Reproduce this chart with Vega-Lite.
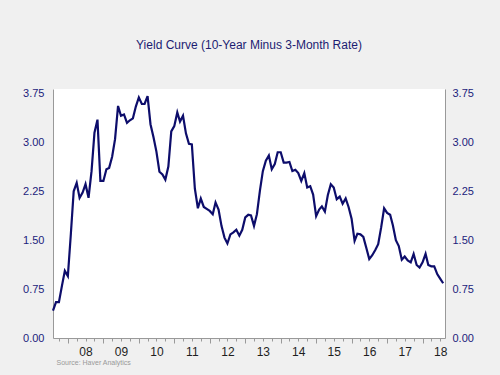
{
  "$schema": "https://vega.github.io/schema/vega-lite/v6.json",
  "autosize": {"type": "none"},
  "width": 392,
  "height": 249,
  "padding": {"left": 53, "top": 89, "right": 55, "bottom": 37},
  "background": "#f0f0f0",
  "view": {"fill": "white", "stroke": null},
  "title": {
    "text": "Yield Curve (10-Year Minus 3-Month Rate)",
    "color": "#1c1c72",
    "fontSize": 12,
    "font": "Liberation Sans",
    "fontWeight": "normal",
    "anchor": "middle",
    "offset": 36
  },
  "data": {
    "values": [
      {"date": "2007-08-01", "spread": 0.42},
      {"date": "2007-09-01", "spread": 0.55},
      {"date": "2007-10-01", "spread": 0.55},
      {"date": "2007-11-01", "spread": 0.80},
      {"date": "2007-12-01", "spread": 1.03},
      {"date": "2008-01-01", "spread": 0.95},
      {"date": "2008-02-01", "spread": 1.60},
      {"date": "2008-03-01", "spread": 2.25},
      {"date": "2008-04-01", "spread": 2.38},
      {"date": "2008-05-01", "spread": 2.15},
      {"date": "2008-06-01", "spread": 2.23},
      {"date": "2008-07-01", "spread": 2.36},
      {"date": "2008-08-01", "spread": 2.15},
      {"date": "2008-09-01", "spread": 2.56},
      {"date": "2008-10-01", "spread": 3.15},
      {"date": "2008-11-01", "spread": 3.35},
      {"date": "2008-12-01", "spread": 2.41},
      {"date": "2009-01-01", "spread": 2.41},
      {"date": "2009-02-01", "spread": 2.59},
      {"date": "2009-03-01", "spread": 2.61},
      {"date": "2009-04-01", "spread": 2.78},
      {"date": "2009-05-01", "spread": 3.05},
      {"date": "2009-06-01", "spread": 3.56},
      {"date": "2009-07-01", "spread": 3.41},
      {"date": "2009-08-01", "spread": 3.43},
      {"date": "2009-09-01", "spread": 3.30},
      {"date": "2009-10-01", "spread": 3.34},
      {"date": "2009-11-01", "spread": 3.37},
      {"date": "2009-12-01", "spread": 3.55},
      {"date": "2010-01-01", "spread": 3.69},
      {"date": "2010-02-01", "spread": 3.59},
      {"date": "2010-03-01", "spread": 3.59},
      {"date": "2010-04-01", "spread": 3.71},
      {"date": "2010-05-01", "spread": 3.28},
      {"date": "2010-06-01", "spread": 3.08},
      {"date": "2010-07-01", "spread": 2.86},
      {"date": "2010-08-01", "spread": 2.55},
      {"date": "2010-09-01", "spread": 2.51},
      {"date": "2010-10-01", "spread": 2.43},
      {"date": "2010-11-01", "spread": 2.63},
      {"date": "2010-12-01", "spread": 3.17},
      {"date": "2011-01-01", "spread": 3.25},
      {"date": "2011-02-01", "spread": 3.46},
      {"date": "2011-03-01", "spread": 3.32},
      {"date": "2011-04-01", "spread": 3.41},
      {"date": "2011-05-01", "spread": 3.14},
      {"date": "2011-06-01", "spread": 2.98},
      {"date": "2011-07-01", "spread": 2.97},
      {"date": "2011-08-01", "spread": 2.29},
      {"date": "2011-09-01", "spread": 1.99},
      {"date": "2011-10-01", "spread": 2.14},
      {"date": "2011-11-01", "spread": 2.01},
      {"date": "2011-12-01", "spread": 1.98},
      {"date": "2012-01-01", "spread": 1.95},
      {"date": "2012-02-01", "spread": 1.90},
      {"date": "2012-03-01", "spread": 2.08},
      {"date": "2012-04-01", "spread": 1.97},
      {"date": "2012-05-01", "spread": 1.72},
      {"date": "2012-06-01", "spread": 1.54},
      {"date": "2012-07-01", "spread": 1.45},
      {"date": "2012-08-01", "spread": 1.59},
      {"date": "2012-09-01", "spread": 1.62},
      {"date": "2012-10-01", "spread": 1.66},
      {"date": "2012-11-01", "spread": 1.57},
      {"date": "2012-12-01", "spread": 1.66},
      {"date": "2013-01-01", "spread": 1.85},
      {"date": "2013-02-01", "spread": 1.89},
      {"date": "2013-03-01", "spread": 1.88},
      {"date": "2013-04-01", "spread": 1.72},
      {"date": "2013-05-01", "spread": 1.90},
      {"date": "2013-06-01", "spread": 2.26},
      {"date": "2013-07-01", "spread": 2.56},
      {"date": "2013-08-01", "spread": 2.72},
      {"date": "2013-09-01", "spread": 2.80},
      {"date": "2013-10-01", "spread": 2.59},
      {"date": "2013-11-01", "spread": 2.67},
      {"date": "2013-12-01", "spread": 2.85},
      {"date": "2014-01-01", "spread": 2.85},
      {"date": "2014-02-01", "spread": 2.69},
      {"date": "2014-03-01", "spread": 2.69},
      {"date": "2014-04-01", "spread": 2.70},
      {"date": "2014-05-01", "spread": 2.56},
      {"date": "2014-06-01", "spread": 2.58},
      {"date": "2014-07-01", "spread": 2.53},
      {"date": "2014-08-01", "spread": 2.41},
      {"date": "2014-09-01", "spread": 2.53},
      {"date": "2014-10-01", "spread": 2.31},
      {"date": "2014-11-01", "spread": 2.33},
      {"date": "2014-12-01", "spread": 2.20},
      {"date": "2015-01-01", "spread": 1.87},
      {"date": "2015-02-01", "spread": 1.97},
      {"date": "2015-03-01", "spread": 2.02},
      {"date": "2015-04-01", "spread": 1.94},
      {"date": "2015-05-01", "spread": 2.19},
      {"date": "2015-06-01", "spread": 2.36},
      {"date": "2015-07-01", "spread": 2.31},
      {"date": "2015-08-01", "spread": 2.13},
      {"date": "2015-09-01", "spread": 2.17},
      {"date": "2015-10-01", "spread": 2.06},
      {"date": "2015-11-01", "spread": 2.14},
      {"date": "2015-12-01", "spread": 2.01},
      {"date": "2016-01-01", "spread": 1.83},
      {"date": "2016-02-01", "spread": 1.49},
      {"date": "2016-03-01", "spread": 1.60},
      {"date": "2016-04-01", "spread": 1.59},
      {"date": "2016-05-01", "spread": 1.55},
      {"date": "2016-06-01", "spread": 1.38},
      {"date": "2016-07-01", "spread": 1.21},
      {"date": "2016-08-01", "spread": 1.27},
      {"date": "2016-09-01", "spread": 1.35},
      {"date": "2016-10-01", "spread": 1.44},
      {"date": "2016-11-01", "spread": 1.70},
      {"date": "2016-12-01", "spread": 1.99},
      {"date": "2017-01-01", "spread": 1.92},
      {"date": "2017-02-01", "spread": 1.89},
      {"date": "2017-03-01", "spread": 1.73},
      {"date": "2017-04-01", "spread": 1.50},
      {"date": "2017-05-01", "spread": 1.41},
      {"date": "2017-06-01", "spread": 1.20},
      {"date": "2017-07-01", "spread": 1.25},
      {"date": "2017-08-01", "spread": 1.19},
      {"date": "2017-09-01", "spread": 1.16},
      {"date": "2017-10-01", "spread": 1.29},
      {"date": "2017-11-01", "spread": 1.12},
      {"date": "2017-12-01", "spread": 1.08},
      {"date": "2018-01-01", "spread": 1.16},
      {"date": "2018-02-01", "spread": 1.29},
      {"date": "2018-03-01", "spread": 1.12},
      {"date": "2018-04-01", "spread": 1.10},
      {"date": "2018-05-01", "spread": 1.10},
      {"date": "2018-06-01", "spread": 0.98},
      {"date": "2018-07-01", "spread": 0.91},
      {"date": "2018-08-01", "spread": 0.84}
    ]
  },
  "encoding": {
    "x": {
      "field": "date",
      "type": "temporal",
      "scale": {
        "type": "utc",
        "domain": [
          {"year": 2007, "month": 8, "date": 1, "utc": true},
          {"year": 2018, "month": 8, "date": 20, "utc": true}
        ]
      },
      "axis": {
        "orient": "bottom",
        "grid": false,
        "tickCount": {"interval": "month", "step": 3},
        "labelExpr": "utcmonth(datum.value) === 6 ? utcFormat(datum.value, '%y') : ''",
        "tickSize": {"condition": {"test": "utcmonth(datum.value) === 0", "value": 5}, "value": 3},
        "tickColor": "#999999",
        "domainColor": "#999999",
        "labelColor": "#1e1e1e",
        "labelFont": "Liberation Sans",
        "labelFontSize": 12,
        "labelPadding": 5,
        "labelOverlap": false,
        "labelFlush": false,
        "title": "Source: Haver Analytics",
        "titleFont": "Liberation Sans",
        "titleFontSize": 7,
        "titleFontWeight": "normal",
        "titleColor": "#999999",
        "titleAnchor": "start",
        "titleAlign": "left",
        "titleBaseline": "alphabetic",
        "titleX": 3,
        "titleY": 26
      }
    }
  },
  "layer": [
    {
      "mark": {"type": "line", "color": "#0d0d6b", "strokeWidth": 2.2},
      "encoding": {
        "y": {
          "field": "spread",
          "type": "quantitative",
          "scale": {"domain": [0, 3.82], "nice": false, "zero": false},
          "axis": {
            "orient": "left",
            "values": [0, 0.75, 1.5, 2.25, 3, 3.75],
            "format": ".2f",
            "grid": false,
            "ticks": false,
            "domainColor": "#999999",
            "labelColor": "#1c1c7c",
            "labelFont": "Liberation Sans",
            "labelFontSize": 11,
            "labelPadding": 9,
            "title": null
          }
        }
      }
    },
    {
      "mark": {"type": "line", "opacity": 0},
      "encoding": {
        "y": {
          "field": "spread",
          "type": "quantitative",
          "scale": {"domain": [0, 3.82], "nice": false, "zero": false},
          "axis": {
            "orient": "right",
            "values": [0, 0.75, 1.5, 2.25, 3, 3.75],
            "format": ".2f",
            "grid": false,
            "ticks": false,
            "domainColor": "#999999",
            "labelColor": "#1c1c7c",
            "labelFont": "Liberation Sans",
            "labelFontSize": 11,
            "labelPadding": 7,
            "title": null
          }
        }
      }
    }
  ],
  "resolve": {"scale": {"y": "independent"}}
}
